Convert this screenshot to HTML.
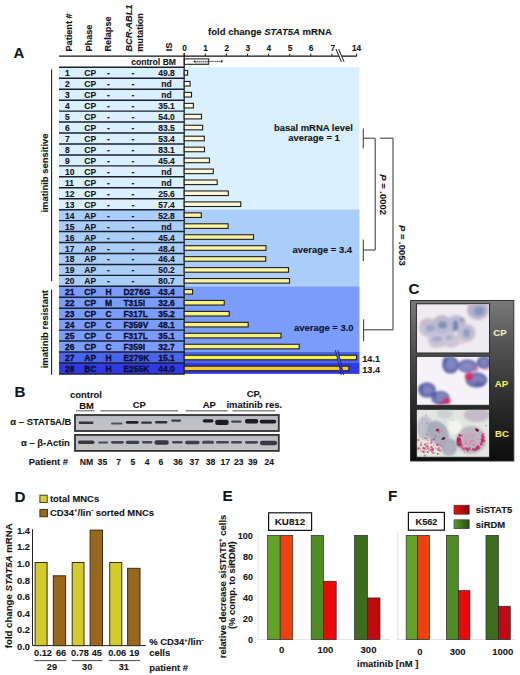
<!DOCTYPE html>
<html><head><meta charset="utf-8"><title>Figure</title>
<style>
html,body{margin:0;padding:0;background:#fff;}
body{width:520px;height:675px;overflow:hidden;}
svg{display:block;font-family:"Liberation Sans",sans-serif;}
</style></head><body>
<svg width="520" height="675" viewBox="0 0 520 675">
<rect x="0" y="0" width="520" height="675" fill="#fff"/>
<rect x="59.0" y="67.3" width="300.5" height="142.35" fill="#daf0ff" stroke="none" stroke-width="1.0" />
<rect x="59.0" y="209.65" width="300.5" height="76.65" fill="#aacdfa" stroke="none" stroke-width="1.0" />
<rect x="59.0" y="286.3" width="300.5" height="65.7" fill="#7a9dfc" stroke="none" stroke-width="1.0" />
<rect x="59.0" y="352.0" width="300.5" height="10.95" fill="#4a64ee" stroke="none" stroke-width="1.0" />
<rect x="59.0" y="362.95" width="300.5" height="10.95" fill="#3038e8" stroke="none" stroke-width="1.0" />
<text transform="translate(71.6,51.6) rotate(-90)" font-size="9.2" text-anchor="start" font-weight="bold" fill="#151515" stroke="#151515" stroke-width="0.1" >Patient #</text>
<text transform="translate(92.0,51.6) rotate(-90)" font-size="9.2" text-anchor="start" font-weight="bold" fill="#151515" stroke="#151515" stroke-width="0.1" >Phase</text>
<text transform="translate(110.6,51.6) rotate(-90)" font-size="9.2" text-anchor="start" font-weight="bold" fill="#151515" stroke="#151515" stroke-width="0.1" >Relapse</text>
<text transform="translate(131.6,51.6) rotate(-90)" font-size="9.2" font-weight="bold" font-style="italic" fill="#151515" stroke="#151515" stroke-width="0.1">BCR-ABL1</text>
<text transform="translate(143.2,51.8) rotate(-90)" font-size="9.2" text-anchor="start" font-weight="bold" fill="#151515" stroke="#151515" stroke-width="0.1" >mutation</text>
<text transform="translate(171.6,51.2) rotate(-90)" font-size="9.2" text-anchor="start" font-weight="bold" fill="#151515" stroke="#151515" stroke-width="0.1" >IS</text>
<text x="13.6" y="58.3" font-size="15.0" text-anchor="start" font-weight="bold" fill="#151515" stroke="#151515" stroke-width="0.1" >A</text>
<text x="208.0" y="35.0" font-size="9.55" font-weight="bold" fill="#151515" stroke="#151515" stroke-width="0.1">fold change <tspan font-style="italic">STAT5A</tspan> mRNA</text>
<line x1="59.0" y1="56" x2="356.8" y2="56" stroke="#111" stroke-width="1.25" />
<line x1="184.2" y1="53.6" x2="184.2" y2="56" stroke="#1a1a1a" stroke-width="1.0" />
<text x="184.5" y="51.3" font-size="8.3" text-anchor="middle" font-weight="bold" fill="#151515" stroke="#151515" stroke-width="0.1" >0</text>
<line x1="205.3" y1="53.6" x2="205.3" y2="56" stroke="#1a1a1a" stroke-width="1.0" />
<text x="205.6" y="51.3" font-size="8.3" text-anchor="middle" font-weight="bold" fill="#151515" stroke="#151515" stroke-width="0.1" >1</text>
<line x1="226.4" y1="53.6" x2="226.4" y2="56" stroke="#1a1a1a" stroke-width="1.0" />
<text x="226.7" y="51.3" font-size="8.3" text-anchor="middle" font-weight="bold" fill="#151515" stroke="#151515" stroke-width="0.1" >2</text>
<line x1="247.5" y1="53.6" x2="247.5" y2="56" stroke="#1a1a1a" stroke-width="1.0" />
<text x="247.8" y="51.3" font-size="8.3" text-anchor="middle" font-weight="bold" fill="#151515" stroke="#151515" stroke-width="0.1" >3</text>
<line x1="268.6" y1="53.6" x2="268.6" y2="56" stroke="#1a1a1a" stroke-width="1.0" />
<text x="268.9" y="51.3" font-size="8.3" text-anchor="middle" font-weight="bold" fill="#151515" stroke="#151515" stroke-width="0.1" >4</text>
<line x1="289.7" y1="53.6" x2="289.7" y2="56" stroke="#1a1a1a" stroke-width="1.0" />
<text x="290.0" y="51.3" font-size="8.3" text-anchor="middle" font-weight="bold" fill="#151515" stroke="#151515" stroke-width="0.1" >5</text>
<line x1="310.8" y1="53.6" x2="310.8" y2="56" stroke="#1a1a1a" stroke-width="1.0" />
<text x="311.1" y="51.3" font-size="8.3" text-anchor="middle" font-weight="bold" fill="#151515" stroke="#151515" stroke-width="0.1" >6</text>
<line x1="331.9" y1="53.6" x2="331.9" y2="56" stroke="#1a1a1a" stroke-width="1.0" />
<text x="332.9" y="51.3" font-size="8.3" text-anchor="middle" font-weight="bold" fill="#151515" stroke="#151515" stroke-width="0.1" >7</text>
<line x1="356.6" y1="53.6" x2="356.6" y2="56" stroke="#1a1a1a" stroke-width="1.0" />
<text x="356.6" y="51.3" font-size="8.3" text-anchor="middle" font-weight="bold" fill="#151515" stroke="#151515" stroke-width="0.1" >14</text>
<polygon points="336.4,49 338.6,49 344.0,61.8 341.8,61.8" fill="#fff"/>
<line x1="335.9" y1="49" x2="341.4" y2="61.8" stroke="#1a1a1a" stroke-width="1.0" />
<line x1="338.6" y1="49" x2="344.1" y2="61.8" stroke="#1a1a1a" stroke-width="1.0" />
<text x="176.0" y="64.6" font-size="8.6" text-anchor="end" font-weight="bold" fill="#151515" stroke="#151515" stroke-width="0.1" >control BM</text>
<rect x="184.2" y="58.9" width="24.5" height="5.4" fill="#ffffff" stroke="#1a1a1a" stroke-width="1.0" />
<line x1="194.5" y1="63.0" x2="208.5" y2="63.0" stroke="#777" stroke-width="0.7" />
<line x1="194.5" y1="61.4" x2="221.8" y2="61.4" stroke="#222" stroke-width="0.9" stroke-dasharray="1.4,0.6"/>
<circle cx="194.6" cy="61.4" r="0.9" fill="#222"/>
<circle cx="221.8" cy="61.4" r="1.1" fill="#222"/>
<line x1="59.0" y1="67.3" x2="184.2" y2="67.3" stroke="#18202c" stroke-width="1.45" />
<line x1="59.0" y1="78.25" x2="184.2" y2="78.25" stroke="#18202c" stroke-width="1.45" />
<line x1="59.0" y1="89.2" x2="184.2" y2="89.2" stroke="#18202c" stroke-width="1.45" />
<line x1="59.0" y1="100.15" x2="184.2" y2="100.15" stroke="#18202c" stroke-width="1.45" />
<line x1="59.0" y1="111.1" x2="184.2" y2="111.1" stroke="#18202c" stroke-width="1.45" />
<line x1="59.0" y1="122.05" x2="184.2" y2="122.05" stroke="#18202c" stroke-width="1.45" />
<line x1="59.0" y1="133.0" x2="184.2" y2="133.0" stroke="#18202c" stroke-width="1.45" />
<line x1="59.0" y1="143.95" x2="184.2" y2="143.95" stroke="#18202c" stroke-width="1.45" />
<line x1="59.0" y1="154.9" x2="184.2" y2="154.9" stroke="#18202c" stroke-width="1.45" />
<line x1="59.0" y1="165.85" x2="184.2" y2="165.85" stroke="#18202c" stroke-width="1.45" />
<line x1="59.0" y1="176.8" x2="184.2" y2="176.8" stroke="#18202c" stroke-width="1.45" />
<line x1="59.0" y1="187.75" x2="184.2" y2="187.75" stroke="#18202c" stroke-width="1.45" />
<line x1="59.0" y1="198.7" x2="184.2" y2="198.7" stroke="#18202c" stroke-width="1.45" />
<line x1="59.0" y1="209.65" x2="184.2" y2="209.65" stroke="#18202c" stroke-width="1.45" />
<line x1="59.0" y1="220.6" x2="184.2" y2="220.6" stroke="#18202c" stroke-width="1.45" />
<line x1="59.0" y1="231.55" x2="184.2" y2="231.55" stroke="#18202c" stroke-width="1.45" />
<line x1="59.0" y1="242.5" x2="184.2" y2="242.5" stroke="#18202c" stroke-width="1.45" />
<line x1="59.0" y1="253.45" x2="184.2" y2="253.45" stroke="#18202c" stroke-width="1.45" />
<line x1="59.0" y1="264.4" x2="184.2" y2="264.4" stroke="#18202c" stroke-width="1.45" />
<line x1="59.0" y1="275.35" x2="184.2" y2="275.35" stroke="#18202c" stroke-width="1.45" />
<line x1="59.0" y1="286.3" x2="184.2" y2="286.3" stroke="#18202c" stroke-width="1.45" />
<line x1="59.0" y1="297.25" x2="184.2" y2="297.25" stroke="#18202c" stroke-width="1.45" />
<line x1="59.0" y1="308.2" x2="184.2" y2="308.2" stroke="#18202c" stroke-width="1.45" />
<line x1="59.0" y1="319.15" x2="184.2" y2="319.15" stroke="#18202c" stroke-width="1.45" />
<line x1="59.0" y1="330.1" x2="184.2" y2="330.1" stroke="#18202c" stroke-width="1.45" />
<line x1="59.0" y1="341.05" x2="184.2" y2="341.05" stroke="#18202c" stroke-width="1.45" />
<line x1="59.0" y1="352.0" x2="184.2" y2="352.0" stroke="#18202c" stroke-width="1.45" />
<line x1="59.0" y1="362.95" x2="184.2" y2="362.95" stroke="#18202c" stroke-width="1.45" />
<line x1="59.0" y1="373.9" x2="184.2" y2="373.9" stroke="#18202c" stroke-width="1.45" />
<line x1="184.2" y1="53" x2="184.2" y2="374.4" stroke="#1a1a1a" stroke-width="1.2" />
<text x="65.0" y="76.3" font-size="8.5" text-anchor="start" font-weight="bold" fill="#151515" stroke="#151515" stroke-width="0.12" >1</text>
<text x="84.3" y="76.3" font-size="8.5" text-anchor="start" font-weight="bold" fill="#151515" stroke="#151515" stroke-width="0.12" >CP</text>
<text x="108.5" y="76.3" font-size="8.5" text-anchor="middle" font-weight="bold" fill="#151515" stroke="#151515" stroke-width="0.12" >-</text>
<text x="133.0" y="76.3" font-size="8.5" text-anchor="middle" font-weight="bold" fill="#151515" stroke="#151515" stroke-width="0.12" >-</text>
<text x="166.5" y="76.3" font-size="8.5" text-anchor="middle" font-weight="bold" fill="#151515" stroke="#151515" stroke-width="0.12" >49.8</text>
<rect x="184.2" y="70.5" width="3.4" height="4.6" fill="#fcf7d6" stroke="#1e1e1e" stroke-width="1.1" />
<text x="65.0" y="87.25" font-size="8.5" text-anchor="start" font-weight="bold" fill="#151515" stroke="#151515" stroke-width="0.12" >2</text>
<text x="84.3" y="87.25" font-size="8.5" text-anchor="start" font-weight="bold" fill="#151515" stroke="#151515" stroke-width="0.12" >CP</text>
<text x="108.5" y="87.25" font-size="8.5" text-anchor="middle" font-weight="bold" fill="#151515" stroke="#151515" stroke-width="0.12" >-</text>
<text x="133.0" y="87.25" font-size="8.5" text-anchor="middle" font-weight="bold" fill="#151515" stroke="#151515" stroke-width="0.12" >-</text>
<text x="166.5" y="87.25" font-size="8.5" text-anchor="middle" font-weight="bold" fill="#151515" stroke="#151515" stroke-width="0.12" >nd</text>
<rect x="184.2" y="81.45" width="5.9" height="4.6" fill="#fcf7d6" stroke="#1e1e1e" stroke-width="1.1" />
<text x="65.0" y="98.2" font-size="8.5" text-anchor="start" font-weight="bold" fill="#151515" stroke="#151515" stroke-width="0.12" >3</text>
<text x="84.3" y="98.2" font-size="8.5" text-anchor="start" font-weight="bold" fill="#151515" stroke="#151515" stroke-width="0.12" >CP</text>
<text x="108.5" y="98.2" font-size="8.5" text-anchor="middle" font-weight="bold" fill="#151515" stroke="#151515" stroke-width="0.12" >-</text>
<text x="133.0" y="98.2" font-size="8.5" text-anchor="middle" font-weight="bold" fill="#151515" stroke="#151515" stroke-width="0.12" >-</text>
<text x="166.5" y="98.2" font-size="8.5" text-anchor="middle" font-weight="bold" fill="#151515" stroke="#151515" stroke-width="0.12" >nd</text>
<rect x="184.2" y="92.4" width="7.3" height="4.6" fill="#fcf7d6" stroke="#1e1e1e" stroke-width="1.1" />
<text x="65.0" y="109.15" font-size="8.5" text-anchor="start" font-weight="bold" fill="#151515" stroke="#151515" stroke-width="0.12" >4</text>
<text x="84.3" y="109.15" font-size="8.5" text-anchor="start" font-weight="bold" fill="#151515" stroke="#151515" stroke-width="0.12" >CP</text>
<text x="108.5" y="109.15" font-size="8.5" text-anchor="middle" font-weight="bold" fill="#151515" stroke="#151515" stroke-width="0.12" >-</text>
<text x="133.0" y="109.15" font-size="8.5" text-anchor="middle" font-weight="bold" fill="#151515" stroke="#151515" stroke-width="0.12" >-</text>
<text x="166.5" y="109.15" font-size="8.5" text-anchor="middle" font-weight="bold" fill="#151515" stroke="#151515" stroke-width="0.12" >35.1</text>
<rect x="184.2" y="103.35" width="9.2" height="4.6" fill="#fcf7d6" stroke="#1e1e1e" stroke-width="1.1" />
<text x="65.0" y="120.1" font-size="8.5" text-anchor="start" font-weight="bold" fill="#151515" stroke="#151515" stroke-width="0.12" >5</text>
<text x="84.3" y="120.1" font-size="8.5" text-anchor="start" font-weight="bold" fill="#151515" stroke="#151515" stroke-width="0.12" >CP</text>
<text x="108.5" y="120.1" font-size="8.5" text-anchor="middle" font-weight="bold" fill="#151515" stroke="#151515" stroke-width="0.12" >-</text>
<text x="133.0" y="120.1" font-size="8.5" text-anchor="middle" font-weight="bold" fill="#151515" stroke="#151515" stroke-width="0.12" >-</text>
<text x="166.5" y="120.1" font-size="8.5" text-anchor="middle" font-weight="bold" fill="#151515" stroke="#151515" stroke-width="0.12" >54.0</text>
<rect x="184.2" y="114.3" width="17.3" height="4.6" fill="#fcf7d6" stroke="#1e1e1e" stroke-width="1.1" />
<text x="65.0" y="131.05" font-size="8.5" text-anchor="start" font-weight="bold" fill="#151515" stroke="#151515" stroke-width="0.12" >6</text>
<text x="84.3" y="131.05" font-size="8.5" text-anchor="start" font-weight="bold" fill="#151515" stroke="#151515" stroke-width="0.12" >CP</text>
<text x="108.5" y="131.05" font-size="8.5" text-anchor="middle" font-weight="bold" fill="#151515" stroke="#151515" stroke-width="0.12" >-</text>
<text x="133.0" y="131.05" font-size="8.5" text-anchor="middle" font-weight="bold" fill="#151515" stroke="#151515" stroke-width="0.12" >-</text>
<text x="166.5" y="131.05" font-size="8.5" text-anchor="middle" font-weight="bold" fill="#151515" stroke="#151515" stroke-width="0.12" >83.5</text>
<rect x="184.2" y="125.25" width="18.4" height="4.6" fill="#fcf7d6" stroke="#1e1e1e" stroke-width="1.1" />
<text x="65.0" y="142.0" font-size="8.5" text-anchor="start" font-weight="bold" fill="#151515" stroke="#151515" stroke-width="0.12" >7</text>
<text x="84.3" y="142.0" font-size="8.5" text-anchor="start" font-weight="bold" fill="#151515" stroke="#151515" stroke-width="0.12" >CP</text>
<text x="108.5" y="142.0" font-size="8.5" text-anchor="middle" font-weight="bold" fill="#151515" stroke="#151515" stroke-width="0.12" >-</text>
<text x="133.0" y="142.0" font-size="8.5" text-anchor="middle" font-weight="bold" fill="#151515" stroke="#151515" stroke-width="0.12" >-</text>
<text x="166.5" y="142.0" font-size="8.5" text-anchor="middle" font-weight="bold" fill="#151515" stroke="#151515" stroke-width="0.12" >53.4</text>
<rect x="184.2" y="136.2" width="20.1" height="4.6" fill="#fcf7d6" stroke="#1e1e1e" stroke-width="1.1" />
<text x="65.0" y="152.95" font-size="8.5" text-anchor="start" font-weight="bold" fill="#151515" stroke="#151515" stroke-width="0.12" >8</text>
<text x="84.3" y="152.95" font-size="8.5" text-anchor="start" font-weight="bold" fill="#151515" stroke="#151515" stroke-width="0.12" >CP</text>
<text x="108.5" y="152.95" font-size="8.5" text-anchor="middle" font-weight="bold" fill="#151515" stroke="#151515" stroke-width="0.12" >-</text>
<text x="133.0" y="152.95" font-size="8.5" text-anchor="middle" font-weight="bold" fill="#151515" stroke="#151515" stroke-width="0.12" >-</text>
<text x="166.5" y="152.95" font-size="8.5" text-anchor="middle" font-weight="bold" fill="#151515" stroke="#151515" stroke-width="0.12" >83.1</text>
<rect x="184.2" y="147.15" width="20.3" height="4.6" fill="#fcf7d6" stroke="#1e1e1e" stroke-width="1.1" />
<text x="65.0" y="163.9" font-size="8.5" text-anchor="start" font-weight="bold" fill="#151515" stroke="#151515" stroke-width="0.12" >9</text>
<text x="84.3" y="163.9" font-size="8.5" text-anchor="start" font-weight="bold" fill="#151515" stroke="#151515" stroke-width="0.12" >CP</text>
<text x="108.5" y="163.9" font-size="8.5" text-anchor="middle" font-weight="bold" fill="#151515" stroke="#151515" stroke-width="0.12" >-</text>
<text x="133.0" y="163.9" font-size="8.5" text-anchor="middle" font-weight="bold" fill="#151515" stroke="#151515" stroke-width="0.12" >-</text>
<text x="166.5" y="163.9" font-size="8.5" text-anchor="middle" font-weight="bold" fill="#151515" stroke="#151515" stroke-width="0.12" >45.4</text>
<rect x="184.2" y="158.1" width="25.3" height="4.6" fill="#fcf7d6" stroke="#1e1e1e" stroke-width="1.1" />
<text x="65.0" y="174.85" font-size="8.5" text-anchor="start" font-weight="bold" fill="#151515" stroke="#151515" stroke-width="0.12" >10</text>
<text x="84.3" y="174.85" font-size="8.5" text-anchor="start" font-weight="bold" fill="#151515" stroke="#151515" stroke-width="0.12" >CP</text>
<text x="108.5" y="174.85" font-size="8.5" text-anchor="middle" font-weight="bold" fill="#151515" stroke="#151515" stroke-width="0.12" >-</text>
<text x="133.0" y="174.85" font-size="8.5" text-anchor="middle" font-weight="bold" fill="#151515" stroke="#151515" stroke-width="0.12" >-</text>
<text x="166.5" y="174.85" font-size="8.5" text-anchor="middle" font-weight="bold" fill="#151515" stroke="#151515" stroke-width="0.12" >nd</text>
<rect x="184.2" y="169.05" width="29.1" height="4.6" fill="#fcf7d6" stroke="#1e1e1e" stroke-width="1.1" />
<text x="65.0" y="185.8" font-size="8.5" text-anchor="start" font-weight="bold" fill="#151515" stroke="#151515" stroke-width="0.12" >11</text>
<text x="84.3" y="185.8" font-size="8.5" text-anchor="start" font-weight="bold" fill="#151515" stroke="#151515" stroke-width="0.12" >CP</text>
<text x="108.5" y="185.8" font-size="8.5" text-anchor="middle" font-weight="bold" fill="#151515" stroke="#151515" stroke-width="0.12" >-</text>
<text x="133.0" y="185.8" font-size="8.5" text-anchor="middle" font-weight="bold" fill="#151515" stroke="#151515" stroke-width="0.12" >-</text>
<text x="166.5" y="185.8" font-size="8.5" text-anchor="middle" font-weight="bold" fill="#151515" stroke="#151515" stroke-width="0.12" >nd</text>
<rect x="184.2" y="180.0" width="33.0" height="4.6" fill="#fcf7d6" stroke="#1e1e1e" stroke-width="1.1" />
<text x="65.0" y="196.75" font-size="8.5" text-anchor="start" font-weight="bold" fill="#151515" stroke="#151515" stroke-width="0.12" >12</text>
<text x="84.3" y="196.75" font-size="8.5" text-anchor="start" font-weight="bold" fill="#151515" stroke="#151515" stroke-width="0.12" >CP</text>
<text x="108.5" y="196.75" font-size="8.5" text-anchor="middle" font-weight="bold" fill="#151515" stroke="#151515" stroke-width="0.12" >-</text>
<text x="133.0" y="196.75" font-size="8.5" text-anchor="middle" font-weight="bold" fill="#151515" stroke="#151515" stroke-width="0.12" >-</text>
<text x="166.5" y="196.75" font-size="8.5" text-anchor="middle" font-weight="bold" fill="#151515" stroke="#151515" stroke-width="0.12" >25.6</text>
<rect x="184.2" y="190.95" width="44.1" height="4.6" fill="#fcf7d6" stroke="#1e1e1e" stroke-width="1.1" />
<text x="65.0" y="207.7" font-size="8.5" text-anchor="start" font-weight="bold" fill="#151515" stroke="#151515" stroke-width="0.12" >13</text>
<text x="84.3" y="207.7" font-size="8.5" text-anchor="start" font-weight="bold" fill="#151515" stroke="#151515" stroke-width="0.12" >CP</text>
<text x="108.5" y="207.7" font-size="8.5" text-anchor="middle" font-weight="bold" fill="#151515" stroke="#151515" stroke-width="0.12" >-</text>
<text x="133.0" y="207.7" font-size="8.5" text-anchor="middle" font-weight="bold" fill="#151515" stroke="#151515" stroke-width="0.12" >-</text>
<text x="166.5" y="207.7" font-size="8.5" text-anchor="middle" font-weight="bold" fill="#151515" stroke="#151515" stroke-width="0.12" >57.4</text>
<rect x="184.2" y="201.9" width="56.6" height="4.6" fill="#fcf7d6" stroke="#1e1e1e" stroke-width="1.1" />
<text x="65.0" y="218.65" font-size="8.5" text-anchor="start" font-weight="bold" fill="#151515" stroke="#151515" stroke-width="0.12" >14</text>
<text x="84.3" y="218.65" font-size="8.5" text-anchor="start" font-weight="bold" fill="#151515" stroke="#151515" stroke-width="0.12" >AP</text>
<text x="108.5" y="218.65" font-size="8.5" text-anchor="middle" font-weight="bold" fill="#151515" stroke="#151515" stroke-width="0.12" >-</text>
<text x="133.0" y="218.65" font-size="8.5" text-anchor="middle" font-weight="bold" fill="#151515" stroke="#151515" stroke-width="0.12" >-</text>
<text x="166.5" y="218.65" font-size="8.5" text-anchor="middle" font-weight="bold" fill="#151515" stroke="#151515" stroke-width="0.12" >52.8</text>
<rect x="184.2" y="212.85" width="17.1" height="4.6" fill="#fbf2a6" stroke="#1e1e1e" stroke-width="1.1" />
<text x="65.0" y="229.6" font-size="8.5" text-anchor="start" font-weight="bold" fill="#151515" stroke="#151515" stroke-width="0.12" >15</text>
<text x="84.3" y="229.6" font-size="8.5" text-anchor="start" font-weight="bold" fill="#151515" stroke="#151515" stroke-width="0.12" >AP</text>
<text x="108.5" y="229.6" font-size="8.5" text-anchor="middle" font-weight="bold" fill="#151515" stroke="#151515" stroke-width="0.12" >-</text>
<text x="133.0" y="229.6" font-size="8.5" text-anchor="middle" font-weight="bold" fill="#151515" stroke="#151515" stroke-width="0.12" >-</text>
<text x="166.5" y="229.6" font-size="8.5" text-anchor="middle" font-weight="bold" fill="#151515" stroke="#151515" stroke-width="0.12" >nd</text>
<rect x="184.2" y="223.8" width="43.9" height="4.6" fill="#fbf2a6" stroke="#1e1e1e" stroke-width="1.1" />
<text x="65.0" y="240.55" font-size="8.5" text-anchor="start" font-weight="bold" fill="#151515" stroke="#151515" stroke-width="0.12" >16</text>
<text x="84.3" y="240.55" font-size="8.5" text-anchor="start" font-weight="bold" fill="#151515" stroke="#151515" stroke-width="0.12" >AP</text>
<text x="108.5" y="240.55" font-size="8.5" text-anchor="middle" font-weight="bold" fill="#151515" stroke="#151515" stroke-width="0.12" >-</text>
<text x="133.0" y="240.55" font-size="8.5" text-anchor="middle" font-weight="bold" fill="#151515" stroke="#151515" stroke-width="0.12" >-</text>
<text x="166.5" y="240.55" font-size="8.5" text-anchor="middle" font-weight="bold" fill="#151515" stroke="#151515" stroke-width="0.12" >45.4</text>
<rect x="184.2" y="234.75" width="69.3" height="4.6" fill="#fbf2a6" stroke="#1e1e1e" stroke-width="1.1" />
<text x="65.0" y="251.5" font-size="8.5" text-anchor="start" font-weight="bold" fill="#151515" stroke="#151515" stroke-width="0.12" >17</text>
<text x="84.3" y="251.5" font-size="8.5" text-anchor="start" font-weight="bold" fill="#151515" stroke="#151515" stroke-width="0.12" >AP</text>
<text x="108.5" y="251.5" font-size="8.5" text-anchor="middle" font-weight="bold" fill="#151515" stroke="#151515" stroke-width="0.12" >-</text>
<text x="133.0" y="251.5" font-size="8.5" text-anchor="middle" font-weight="bold" fill="#151515" stroke="#151515" stroke-width="0.12" >-</text>
<text x="166.5" y="251.5" font-size="8.5" text-anchor="middle" font-weight="bold" fill="#151515" stroke="#151515" stroke-width="0.12" >48.4</text>
<rect x="184.2" y="245.7" width="81.8" height="4.6" fill="#fbf2a6" stroke="#1e1e1e" stroke-width="1.1" />
<text x="65.0" y="262.45" font-size="8.5" text-anchor="start" font-weight="bold" fill="#151515" stroke="#151515" stroke-width="0.12" >18</text>
<text x="84.3" y="262.45" font-size="8.5" text-anchor="start" font-weight="bold" fill="#151515" stroke="#151515" stroke-width="0.12" >AP</text>
<text x="108.5" y="262.45" font-size="8.5" text-anchor="middle" font-weight="bold" fill="#151515" stroke="#151515" stroke-width="0.12" >-</text>
<text x="133.0" y="262.45" font-size="8.5" text-anchor="middle" font-weight="bold" fill="#151515" stroke="#151515" stroke-width="0.12" >-</text>
<text x="166.5" y="262.45" font-size="8.5" text-anchor="middle" font-weight="bold" fill="#151515" stroke="#151515" stroke-width="0.12" >46.4</text>
<rect x="184.2" y="256.65" width="81.5" height="4.6" fill="#fbf2a6" stroke="#1e1e1e" stroke-width="1.1" />
<text x="65.0" y="273.4" font-size="8.5" text-anchor="start" font-weight="bold" fill="#151515" stroke="#151515" stroke-width="0.12" >19</text>
<text x="84.3" y="273.4" font-size="8.5" text-anchor="start" font-weight="bold" fill="#151515" stroke="#151515" stroke-width="0.12" >AP</text>
<text x="108.5" y="273.4" font-size="8.5" text-anchor="middle" font-weight="bold" fill="#151515" stroke="#151515" stroke-width="0.12" >-</text>
<text x="133.0" y="273.4" font-size="8.5" text-anchor="middle" font-weight="bold" fill="#151515" stroke="#151515" stroke-width="0.12" >-</text>
<text x="166.5" y="273.4" font-size="8.5" text-anchor="middle" font-weight="bold" fill="#151515" stroke="#151515" stroke-width="0.12" >50.2</text>
<rect x="184.2" y="267.6" width="104.3" height="4.6" fill="#fbf2a6" stroke="#1e1e1e" stroke-width="1.1" />
<text x="65.0" y="284.35" font-size="8.5" text-anchor="start" font-weight="bold" fill="#151515" stroke="#151515" stroke-width="0.12" >20</text>
<text x="84.3" y="284.35" font-size="8.5" text-anchor="start" font-weight="bold" fill="#151515" stroke="#151515" stroke-width="0.12" >AP</text>
<text x="108.5" y="284.35" font-size="8.5" text-anchor="middle" font-weight="bold" fill="#151515" stroke="#151515" stroke-width="0.12" >-</text>
<text x="133.0" y="284.35" font-size="8.5" text-anchor="middle" font-weight="bold" fill="#151515" stroke="#151515" stroke-width="0.12" >-</text>
<text x="166.5" y="284.35" font-size="8.5" text-anchor="middle" font-weight="bold" fill="#151515" stroke="#151515" stroke-width="0.12" >80.7</text>
<rect x="184.2" y="278.55" width="105.3" height="4.6" fill="#fbf2a6" stroke="#1e1e1e" stroke-width="1.1" />
<text x="65.0" y="295.3" font-size="8.5" text-anchor="start" font-weight="bold" fill="#0a0e30" stroke="#0a0e30" stroke-width="0.3" >21</text>
<text x="84.3" y="295.3" font-size="8.5" text-anchor="start" font-weight="bold" fill="#0a0e30" stroke="#0a0e30" stroke-width="0.3" >CP</text>
<text x="108.5" y="295.3" font-size="8.5" text-anchor="middle" font-weight="bold" fill="#0a0e30" stroke="#0a0e30" stroke-width="0.3" >H</text>
<text x="123.4" y="295.3" font-size="8.5" text-anchor="start" font-weight="bold" fill="#0a0e30" stroke="#0a0e30" stroke-width="0.3" >D276G</text>
<text x="166.5" y="295.3" font-size="8.5" text-anchor="middle" font-weight="bold" fill="#0a0e30" stroke="#0a0e30" stroke-width="0.3" >43.4</text>
<rect x="184.2" y="289.5" width="8.4" height="4.6" fill="#f9f27c" stroke="#1e1e1e" stroke-width="1.1" />
<text x="65.0" y="306.25" font-size="8.5" text-anchor="start" font-weight="bold" fill="#0a0e30" stroke="#0a0e30" stroke-width="0.3" >22</text>
<text x="84.3" y="306.25" font-size="8.5" text-anchor="start" font-weight="bold" fill="#0a0e30" stroke="#0a0e30" stroke-width="0.3" >CP</text>
<text x="108.5" y="306.25" font-size="8.5" text-anchor="middle" font-weight="bold" fill="#0a0e30" stroke="#0a0e30" stroke-width="0.3" >M</text>
<text x="123.4" y="306.25" font-size="8.5" text-anchor="start" font-weight="bold" fill="#0a0e30" stroke="#0a0e30" stroke-width="0.3" >T315I</text>
<text x="166.5" y="306.25" font-size="8.5" text-anchor="middle" font-weight="bold" fill="#0a0e30" stroke="#0a0e30" stroke-width="0.3" >32.6</text>
<rect x="184.2" y="300.45" width="40.0" height="4.6" fill="#f9f27c" stroke="#1e1e1e" stroke-width="1.1" />
<text x="65.0" y="317.2" font-size="8.5" text-anchor="start" font-weight="bold" fill="#0a0e30" stroke="#0a0e30" stroke-width="0.3" >23</text>
<text x="84.3" y="317.2" font-size="8.5" text-anchor="start" font-weight="bold" fill="#0a0e30" stroke="#0a0e30" stroke-width="0.3" >CP</text>
<text x="108.5" y="317.2" font-size="8.5" text-anchor="middle" font-weight="bold" fill="#0a0e30" stroke="#0a0e30" stroke-width="0.3" >C</text>
<text x="123.4" y="317.2" font-size="8.5" text-anchor="start" font-weight="bold" fill="#0a0e30" stroke="#0a0e30" stroke-width="0.3" >F317L</text>
<text x="166.5" y="317.2" font-size="8.5" text-anchor="middle" font-weight="bold" fill="#0a0e30" stroke="#0a0e30" stroke-width="0.3" >35.2</text>
<rect x="184.2" y="311.4" width="45.0" height="4.6" fill="#f9f27c" stroke="#1e1e1e" stroke-width="1.1" />
<text x="65.0" y="328.15" font-size="8.5" text-anchor="start" font-weight="bold" fill="#0a0e30" stroke="#0a0e30" stroke-width="0.3" >24</text>
<text x="84.3" y="328.15" font-size="8.5" text-anchor="start" font-weight="bold" fill="#0a0e30" stroke="#0a0e30" stroke-width="0.3" >CP</text>
<text x="108.5" y="328.15" font-size="8.5" text-anchor="middle" font-weight="bold" fill="#0a0e30" stroke="#0a0e30" stroke-width="0.3" >C</text>
<text x="123.4" y="328.15" font-size="8.5" text-anchor="start" font-weight="bold" fill="#0a0e30" stroke="#0a0e30" stroke-width="0.3" >F359V</text>
<text x="166.5" y="328.15" font-size="8.5" text-anchor="middle" font-weight="bold" fill="#0a0e30" stroke="#0a0e30" stroke-width="0.3" >48.1</text>
<rect x="184.2" y="322.35" width="64.0" height="4.6" fill="#f9f27c" stroke="#1e1e1e" stroke-width="1.1" />
<text x="65.0" y="339.1" font-size="8.5" text-anchor="start" font-weight="bold" fill="#0a0e30" stroke="#0a0e30" stroke-width="0.3" >25</text>
<text x="84.3" y="339.1" font-size="8.5" text-anchor="start" font-weight="bold" fill="#0a0e30" stroke="#0a0e30" stroke-width="0.3" >CP</text>
<text x="108.5" y="339.1" font-size="8.5" text-anchor="middle" font-weight="bold" fill="#0a0e30" stroke="#0a0e30" stroke-width="0.3" >C</text>
<text x="123.4" y="339.1" font-size="8.5" text-anchor="start" font-weight="bold" fill="#0a0e30" stroke="#0a0e30" stroke-width="0.3" >F317L</text>
<text x="166.5" y="339.1" font-size="8.5" text-anchor="middle" font-weight="bold" fill="#0a0e30" stroke="#0a0e30" stroke-width="0.3" >35.1</text>
<rect x="184.2" y="333.3" width="96.8" height="4.6" fill="#f9f27c" stroke="#1e1e1e" stroke-width="1.1" />
<text x="65.0" y="350.05" font-size="8.5" text-anchor="start" font-weight="bold" fill="#0a0e30" stroke="#0a0e30" stroke-width="0.3" >26</text>
<text x="84.3" y="350.05" font-size="8.5" text-anchor="start" font-weight="bold" fill="#0a0e30" stroke="#0a0e30" stroke-width="0.3" >CP</text>
<text x="108.5" y="350.05" font-size="8.5" text-anchor="middle" font-weight="bold" fill="#0a0e30" stroke="#0a0e30" stroke-width="0.3" >C</text>
<text x="123.4" y="350.05" font-size="8.5" text-anchor="start" font-weight="bold" fill="#0a0e30" stroke="#0a0e30" stroke-width="0.3" >F359I</text>
<text x="166.5" y="350.05" font-size="8.5" text-anchor="middle" font-weight="bold" fill="#0a0e30" stroke="#0a0e30" stroke-width="0.3" >32.7</text>
<rect x="184.2" y="344.25" width="115.0" height="4.6" fill="#f9f27c" stroke="#1e1e1e" stroke-width="1.1" />
<text x="65.0" y="361.0" font-size="8.5" text-anchor="start" font-weight="bold" fill="#0a0e30" stroke="#0a0e30" stroke-width="0.3" >27</text>
<text x="84.3" y="361.0" font-size="8.5" text-anchor="start" font-weight="bold" fill="#0a0e30" stroke="#0a0e30" stroke-width="0.3" >AP</text>
<text x="108.5" y="361.0" font-size="8.5" text-anchor="middle" font-weight="bold" fill="#0a0e30" stroke="#0a0e30" stroke-width="0.3" >H</text>
<text x="123.4" y="361.0" font-size="8.5" text-anchor="start" font-weight="bold" fill="#0a0e30" stroke="#0a0e30" stroke-width="0.3" >E279K</text>
<text x="166.5" y="361.0" font-size="8.5" text-anchor="middle" font-weight="bold" fill="#0a0e30" stroke="#0a0e30" stroke-width="0.3" >15.1</text>
<rect x="184.2" y="355.2" width="172.3" height="4.6" fill="#f7ef4c" stroke="#1e1e1e" stroke-width="1.1" />
<text x="65.0" y="371.95" font-size="8.5" text-anchor="start" font-weight="bold" fill="#0a0e30" stroke="#0a0e30" stroke-width="0.3" >28</text>
<text x="84.3" y="371.95" font-size="8.5" text-anchor="start" font-weight="bold" fill="#0a0e30" stroke="#0a0e30" stroke-width="0.3" >BC</text>
<text x="108.5" y="371.95" font-size="8.5" text-anchor="middle" font-weight="bold" fill="#0a0e30" stroke="#0a0e30" stroke-width="0.3" >H</text>
<text x="123.4" y="371.95" font-size="8.5" text-anchor="start" font-weight="bold" fill="#0a0e30" stroke="#0a0e30" stroke-width="0.3" >E255K</text>
<text x="166.5" y="371.95" font-size="8.5" text-anchor="middle" font-weight="bold" fill="#0a0e30" stroke="#0a0e30" stroke-width="0.3" >44.0</text>
<rect x="184.2" y="366.15" width="164.7" height="4.6" fill="#f8c832" stroke="#1e1e1e" stroke-width="1.1" />
<polygon points="335.40,350.00 337.80,350.00 338.27,352.00 335.87,352.00" fill="#7a9dfc"/>
<polygon points="335.87,352.00 338.27,352.00 340.86,362.95 338.46,362.95" fill="#4a64ee"/>
<polygon points="338.46,362.95 340.86,362.95 343.44,373.90 341.04,373.90" fill="#3038e8"/>
<line x1="335.4" y1="350.0" x2="341.3" y2="375.0" stroke="#1a2470" stroke-width="0.9" />
<line x1="337.8" y1="350.0" x2="343.7" y2="375.0" stroke="#1a2470" stroke-width="0.9" />
<text x="362.3" y="361.6" font-size="9.1" text-anchor="start" font-weight="bold" fill="#151515" stroke="#151515" stroke-width="0.1" >14.1</text>
<text x="362.3" y="372.7" font-size="9.1" text-anchor="start" font-weight="bold" fill="#151515" stroke="#151515" stroke-width="0.1" >13.4</text>
<line x1="51.6" y1="69.5" x2="51.6" y2="281.3" stroke="#222" stroke-width="1.1" />
<line x1="51.6" y1="289.5" x2="51.6" y2="374.8" stroke="#222" stroke-width="1.1" />
<text transform="translate(47.6,212.6) rotate(-90)" font-size="9.45" text-anchor="start" font-weight="bold" fill="#151515" stroke="#151515" stroke-width="0.1" >imatinib sensitive</text>
<text transform="translate(47.6,368.3) rotate(-90)" font-size="9.45" text-anchor="start" font-weight="bold" fill="#151515" stroke="#151515" stroke-width="0.1" >imatinib resistant</text>
<text x="313.4" y="130.9" font-size="9.45" text-anchor="middle" font-weight="bold" fill="#151515" stroke="#151515" stroke-width="0.1" >basal mRNA level</text>
<text x="314.0" y="141.4" font-size="9.45" text-anchor="middle" font-weight="bold" fill="#151515" stroke="#151515" stroke-width="0.1" >average = 1</text>
<text x="322.3" y="253.0" font-size="9.45" text-anchor="middle" font-weight="bold" fill="#151515" stroke="#151515" stroke-width="0.1" >average = 3.4</text>
<text x="323.8" y="331.2" font-size="9.45" text-anchor="middle" font-weight="bold" fill="#0e1238" stroke="#0e1238" stroke-width="0.1" >average = 3.0</text>
<line x1="363.3" y1="128.4" x2="363.3" y2="148.5" stroke="#444" stroke-width="1.1" />
<line x1="363.3" y1="138.2" x2="375.2" y2="138.2" stroke="#444" stroke-width="1.1" />
<line x1="375.2" y1="138.2" x2="375.2" y2="250.0" stroke="#444" stroke-width="1.1" />
<line x1="363.3" y1="250.0" x2="375.2" y2="250.0" stroke="#444" stroke-width="1.1" />
<line x1="363.3" y1="239.6" x2="363.3" y2="261.0" stroke="#444" stroke-width="1.1" />
<line x1="379.8" y1="138.2" x2="393.0" y2="138.2" stroke="#444" stroke-width="1.1" />
<line x1="393.0" y1="138.2" x2="393.0" y2="329.8" stroke="#444" stroke-width="1.1" />
<line x1="363.6" y1="329.8" x2="393.0" y2="329.8" stroke="#444" stroke-width="1.1" />
<line x1="363.6" y1="319.2" x2="363.6" y2="341.2" stroke="#444" stroke-width="1.1" />
<text transform="translate(380.0,174.3) rotate(90)" font-size="9.45" font-weight="bold" fill="#151515" stroke="#151515" stroke-width="0.1"><tspan font-style="italic">P</tspan> = .0002</text>
<text transform="translate(398.5,225.0) rotate(90)" font-size="9.45" font-weight="bold" fill="#151515" stroke="#151515" stroke-width="0.1"><tspan font-style="italic">P</tspan> = .0053</text>
<text x="14.6" y="397.4" font-size="15.2" text-anchor="start" font-weight="bold" fill="#151515" stroke="#151515" stroke-width="0.1" >B</text>
<text x="86.0" y="398.0" font-size="9.45" text-anchor="middle" font-weight="bold" fill="#151515" stroke="#151515" stroke-width="0.1" >control</text>
<text x="86.5" y="408.6" font-size="9.45" text-anchor="middle" font-weight="bold" fill="#151515" stroke="#151515" stroke-width="0.1" >BM</text>
<text x="139.3" y="407.5" font-size="9.45" text-anchor="middle" font-weight="bold" fill="#151515" stroke="#151515" stroke-width="0.1" >CP</text>
<text x="209.3" y="407.7" font-size="9.45" text-anchor="middle" font-weight="bold" fill="#151515" stroke="#151515" stroke-width="0.1" >AP</text>
<text x="254.0" y="397.3" font-size="9.45" text-anchor="middle" font-weight="bold" fill="#151515" stroke="#151515" stroke-width="0.1" >CP,</text>
<text x="254.3" y="407.7" font-size="9.45" text-anchor="middle" font-weight="bold" fill="#151515" stroke="#151515" stroke-width="0.1" >imatinib res.</text>
<line x1="76.0" y1="410.8" x2="94.6" y2="410.8" stroke="#8a8a8a" stroke-width="1.4" />
<line x1="100.4" y1="410.8" x2="178.0" y2="410.8" stroke="#8a8a8a" stroke-width="1.4" />
<line x1="185.8" y1="410.8" x2="227.7" y2="410.8" stroke="#8a8a8a" stroke-width="1.4" />
<line x1="232.5" y1="410.8" x2="275.3" y2="410.8" stroke="#8a8a8a" stroke-width="1.4" />
<text x="71.4" y="425.0" font-size="9.45" text-anchor="end" font-weight="bold" fill="#151515" stroke="#151515" stroke-width="0.1" >α – STAT5A/B</text>
<text x="69.8" y="445.8" font-size="9.45" text-anchor="end" font-weight="bold" fill="#151515" stroke="#151515" stroke-width="0.1" >α – β-Actin</text>
<text x="68.0" y="464.5" font-size="9.45" text-anchor="end" font-weight="bold" fill="#151515" stroke="#151515" stroke-width="0.1" >Patient #</text>
<defs><linearGradient id="blotg" x1="0" y1="0" x2="0" y2="1"><stop offset="0" stop-color="#b2b4ba"/><stop offset="0.25" stop-color="#bdbfc4"/><stop offset="1" stop-color="#c2c4c8"/></linearGradient><filter id="bl1" x="-20%" y="-100%" width="140%" height="300%"><feGaussianBlur stdDeviation="0.75"/></filter><filter id="bl2" x="-50%" y="-50%" width="200%" height="200%"><feGaussianBlur stdDeviation="1.4"/></filter><filter id="bl3" x="-50%" y="-50%" width="200%" height="200%"><feGaussianBlur stdDeviation="0.8"/></filter><filter id="bl4" x="-50%" y="-50%" width="200%" height="200%"><feGaussianBlur stdDeviation="1.1"/></filter><filter id="bl5" x="-50%" y="-50%" width="200%" height="200%"><feGaussianBlur stdDeviation="0.45"/></filter><linearGradient id="cbox" x1="0" y1="0" x2="0" y2="1"><stop offset="0" stop-color="#7a7a7a"/><stop offset="0.25" stop-color="#575757"/><stop offset="0.5" stop-color="#3a3a3a"/><stop offset="0.75" stop-color="#222222"/><stop offset="1" stop-color="#0c0c0c"/></linearGradient><linearGradient id="gred" x1="0" y1="0" x2="1" y2="0"><stop offset="0" stop-color="#f01010"/><stop offset="1" stop-color="#7a0a0a"/></linearGradient><linearGradient id="ggreen" x1="0" y1="0" x2="1" y2="0"><stop offset="0" stop-color="#5a9a2a"/><stop offset="1" stop-color="#244a14"/></linearGradient></defs>
<rect x="75.0" y="415.0" width="203.8" height="16.0" fill="url(#blotg)" stroke="#333333" stroke-width="1.8" />
<rect x="75.0" y="434.9" width="203.8" height="16.0" fill="url(#blotg)" stroke="#333333" stroke-width="1.8" />
<text x="86.5" y="465.2" font-size="8.6" text-anchor="middle" font-weight="bold" fill="#151515" stroke="#151515" stroke-width="0.1" >NM</text>
<text x="102.4" y="465.2" font-size="8.6" text-anchor="middle" font-weight="bold" fill="#151515" stroke="#151515" stroke-width="0.1" >35</text>
<text x="118.7" y="465.2" font-size="8.6" text-anchor="middle" font-weight="bold" fill="#151515" stroke="#151515" stroke-width="0.1" >7</text>
<text x="132.8" y="465.2" font-size="8.6" text-anchor="middle" font-weight="bold" fill="#151515" stroke="#151515" stroke-width="0.1" >5</text>
<text x="147.2" y="465.2" font-size="8.6" text-anchor="middle" font-weight="bold" fill="#151515" stroke="#151515" stroke-width="0.1" >4</text>
<text x="161.0" y="465.2" font-size="8.6" text-anchor="middle" font-weight="bold" fill="#151515" stroke="#151515" stroke-width="0.1" >6</text>
<text x="178.0" y="465.2" font-size="8.6" text-anchor="middle" font-weight="bold" fill="#151515" stroke="#151515" stroke-width="0.1" >36</text>
<text x="194.4" y="465.2" font-size="8.6" text-anchor="middle" font-weight="bold" fill="#151515" stroke="#151515" stroke-width="0.1" >37</text>
<text x="210.5" y="465.2" font-size="8.6" text-anchor="middle" font-weight="bold" fill="#151515" stroke="#151515" stroke-width="0.1" >38</text>
<text x="225.3" y="465.2" font-size="8.6" text-anchor="middle" font-weight="bold" fill="#151515" stroke="#151515" stroke-width="0.1" >17</text>
<text x="238.8" y="465.2" font-size="8.6" text-anchor="middle" font-weight="bold" fill="#151515" stroke="#151515" stroke-width="0.1" >23</text>
<text x="252.7" y="465.2" font-size="8.6" text-anchor="middle" font-weight="bold" fill="#151515" stroke="#151515" stroke-width="0.1" >39</text>
<text x="269.3" y="465.2" font-size="8.6" text-anchor="middle" font-weight="bold" fill="#151515" stroke="#151515" stroke-width="0.1" >24</text>
<rect x="78.70" y="421.60" width="14.80" height="2.40" rx="1.20" fill="#1c1c22" opacity="0.85" filter="url(#bl1)"/>
<rect x="111.00" y="422.60" width="11.50" height="1.80" rx="0.90" fill="#1c1c22" opacity="0.65" filter="url(#bl1)"/>
<rect x="125.80" y="420.90" width="12.80" height="2.80" rx="1.40" fill="#1c1c22" opacity="0.95" filter="url(#bl1)"/>
<rect x="141.00" y="421.60" width="11.00" height="2.20" rx="1.10" fill="#1c1c22" opacity="0.85" filter="url(#bl1)"/>
<rect x="155.00" y="421.00" width="12.30" height="2.40" rx="1.20" fill="#1c1c22" opacity="0.87" filter="url(#bl1)"/>
<rect x="171.20" y="419.50" width="10.00" height="2.20" rx="1.10" fill="#1c1c22" opacity="0.80" filter="url(#bl1)"/>
<rect x="202.70" y="419.20" width="10.80" height="3.20" rx="1.60" fill="#1c1c22" opacity="1.00" filter="url(#bl1)"/>
<rect x="215.20" y="419.70" width="13.40" height="5.40" rx="2.00" fill="#1c1c22" opacity="1.00" filter="url(#bl1)"/>
<rect x="231.20" y="420.40" width="10.30" height="2.40" rx="1.20" fill="#1c1c22" opacity="0.75" filter="url(#bl1)"/>
<rect x="245.00" y="419.10" width="13.20" height="4.40" rx="2.00" fill="#1c1c22" opacity="1.00" filter="url(#bl1)"/>
<rect x="259.70" y="419.70" width="16.50" height="3.80" rx="1.90" fill="#1c1c22" opacity="1.00" filter="url(#bl1)"/>
<rect x="78.00" y="440.60" width="16.50" height="3.40" rx="1.70" fill="#26262c" opacity="0.87" filter="url(#bl1)"/>
<rect x="98.20" y="441.40" width="10.10" height="2.20" rx="1.10" fill="#26262c" opacity="0.74" filter="url(#bl1)"/>
<rect x="111.00" y="440.90" width="12.80" height="2.80" rx="1.40" fill="#26262c" opacity="0.78" filter="url(#bl1)"/>
<rect x="125.80" y="440.70" width="13.50" height="3.20" rx="1.60" fill="#26262c" opacity="0.83" filter="url(#bl1)"/>
<rect x="142.00" y="441.00" width="10.30" height="2.40" rx="1.20" fill="#26262c" opacity="0.78" filter="url(#bl1)"/>
<rect x="154.50" y="440.20" width="14.30" height="4.60" rx="2.00" fill="#26262c" opacity="0.87" filter="url(#bl1)"/>
<rect x="172.00" y="441.00" width="10.60" height="2.60" rx="1.30" fill="#26262c" opacity="0.78" filter="url(#bl1)"/>
<rect x="185.00" y="440.70" width="14.60" height="3.60" rx="1.80" fill="#26262c" opacity="0.83" filter="url(#bl1)"/>
<rect x="202.00" y="440.70" width="12.00" height="3.00" rx="1.50" fill="#26262c" opacity="0.78" filter="url(#bl1)"/>
<rect x="216.00" y="441.00" width="13.00" height="2.60" rx="1.30" fill="#26262c" opacity="0.78" filter="url(#bl1)"/>
<rect x="231.00" y="441.00" width="11.00" height="2.60" rx="1.30" fill="#26262c" opacity="0.78" filter="url(#bl1)"/>
<rect x="245.00" y="440.90" width="13.00" height="2.80" rx="1.40" fill="#26262c" opacity="0.78" filter="url(#bl1)"/>
<rect x="260.00" y="440.80" width="17.00" height="4.40" rx="2.00" fill="#26262c" opacity="0.87" filter="url(#bl1)"/>
<text x="408.4" y="294.3" font-size="15.2" text-anchor="start" font-weight="bold" fill="#151515" stroke="#151515" stroke-width="0.1" >C</text>
<rect x="410.5" y="300.5" width="103.3" height="160.5" fill="url(#cbox)" stroke="#333" stroke-width="1.0" />
<rect x="416.4" y="303.8" width="73.1" height="49.19999999999999" fill="#eeecf1" stroke="#2a2a2a" stroke-width="1.0" />
<rect x="416.4" y="356.3" width="73.1" height="49.0" fill="#f5f3f7" stroke="#2a2a2a" stroke-width="1.0" />
<rect x="416.4" y="409.3" width="73.1" height="48.0" fill="#e2e6e0" stroke="#2a2a2a" stroke-width="1.0" />
<clipPath id="c1"><rect x="416.9" y="304.3" width="72.1" height="48.2"/></clipPath>
<clipPath id="c2"><rect x="416.9" y="356.8" width="72.1" height="48"/></clipPath>
<clipPath id="c3"><rect x="416.9" y="409.8" width="72.1" height="47"/></clipPath>
<g clip-path="url(#c1)"><g filter="url(#bl4)">
<ellipse cx="478" cy="310" rx="11.5" ry="10.5" fill="#dcc9d0" opacity="0.9"/>
<ellipse cx="428.5" cy="327.5" rx="10" ry="10" fill="#dcc9d0" opacity="0.9"/>
<ellipse cx="442" cy="325" rx="10.5" ry="10.5" fill="#dcc9d0" opacity="0.9"/>
<ellipse cx="456" cy="325" rx="10.5" ry="10.5" fill="#dcc9d0" opacity="0.9"/>
<ellipse cx="466.5" cy="333" rx="9.5" ry="9.5" fill="#dcc9d0" opacity="0.9"/>
<ellipse cx="438" cy="340" rx="10.5" ry="8" fill="#dcc9d0" opacity="0.9"/>
<ellipse cx="451" cy="339.5" rx="9.5" ry="8.5" fill="#dcc9d0" opacity="0.9"/>
<ellipse cx="478" cy="310" rx="10" ry="9" fill="#b0b2cf" opacity="0.95"/>
<ellipse cx="428.5" cy="327.5" rx="8.6" ry="8.6" fill="#bfc0d6" opacity="0.95"/>
<ellipse cx="442" cy="325" rx="9.2" ry="9.2" fill="#b6b8d2" opacity="0.95"/>
<ellipse cx="456" cy="325" rx="9.2" ry="9.2" fill="#b8bad4" opacity="0.95"/>
<ellipse cx="466.5" cy="333" rx="8.2" ry="8.2" fill="#bec0d6" opacity="0.95"/>
<ellipse cx="438" cy="340" rx="9.2" ry="6.8" fill="#c4c4d8" opacity="0.95"/>
<ellipse cx="451" cy="339.5" rx="8.2" ry="7.2" fill="#c8c6d8" opacity="0.95"/>
<ellipse cx="479" cy="311" rx="5.5" ry="4.5" fill="#868cbc" opacity="0.8"/>
<ellipse cx="442.5" cy="325" rx="4.5" ry="3.5" fill="#7a82b4" opacity="0.8"/>
<ellipse cx="455.5" cy="326" rx="2.8" ry="6" fill="#737cae" opacity="0.85"/>
<ellipse cx="430" cy="328" rx="4" ry="3.5" fill="#9298c0" opacity="0.75"/>
<ellipse cx="466.5" cy="333" rx="3.5" ry="4.5" fill="#8a90bc" opacity="0.75"/>
<ellipse cx="437" cy="339" rx="5" ry="2.5" fill="#989ec4" opacity="0.75"/>
<ellipse cx="449" cy="337.5" rx="3" ry="2.5" fill="#9a9ec4" opacity="0.65"/>
<ellipse cx="462" cy="320" rx="3" ry="2.5" fill="#8c92bc" opacity="0.65"/>
<ellipse cx="424" cy="322" rx="3" ry="2" fill="#dcaab8" opacity="0.75"/>
<ellipse cx="471" cy="305" rx="3.5" ry="2" fill="#dcaabc" opacity="0.75"/>
<ellipse cx="456" cy="333" rx="2" ry="2" fill="#f0e8ee" opacity="0.9"/>
<ellipse cx="434" cy="346" rx="4" ry="1.5" fill="#d8b8c0" opacity="0.6"/>
<ellipse cx="462" cy="343" rx="3" ry="1.5" fill="#d8b8c0" opacity="0.6"/>
</g></g>
<g clip-path="url(#c2)"><g filter="url(#bl3)">
<ellipse cx="450.5" cy="365" rx="8.5" ry="8.8" fill="#6468ae" opacity="0.95"/>
<ellipse cx="467.5" cy="366" rx="10" ry="6.8" fill="#7074b4" opacity="0.95"/>
<ellipse cx="484" cy="362.5" rx="7.5" ry="6.5" fill="#6468ac" opacity="0.95"/>
<ellipse cx="476.5" cy="380" rx="11" ry="7.8" fill="#6a6eb0" opacity="0.95"/>
<ellipse cx="427" cy="390" rx="9" ry="7.8" fill="#6468ac" opacity="0.95"/>
<ellipse cx="440.5" cy="398" rx="9.5" ry="7.2" fill="#6e72b2" opacity="0.95"/>
<ellipse cx="451" cy="364" rx="5" ry="5.5" fill="#8a8ec6" opacity="0.75"/>
<ellipse cx="467" cy="366" rx="5.5" ry="3.5" fill="#9294ca" opacity="0.65"/>
<ellipse cx="427.5" cy="390" rx="5" ry="4" fill="#8c8ec6" opacity="0.65"/>
<ellipse cx="478" cy="380" rx="6" ry="4" fill="#8a8cc4" opacity="0.6"/>
<ellipse cx="441" cy="397" rx="5" ry="4" fill="#8e90c6" opacity="0.6"/>
<ellipse cx="484" cy="362" rx="4" ry="3.5" fill="#8c8ec6" opacity="0.6"/>
<ellipse cx="469" cy="376.5" rx="4.2" ry="4" fill="#cf2c6c" opacity="0.9"/>
<ellipse cx="446.5" cy="401" rx="4" ry="3.2" fill="#d02a68" opacity="0.9"/>
<ellipse cx="441" cy="403.5" rx="3" ry="1.5" fill="#c03070" opacity="0.7"/>
<ellipse cx="475" cy="369" rx="3.5" ry="2.5" fill="#b86aa0" opacity="0.7"/>
<ellipse cx="486" cy="368" rx="3" ry="2" fill="#c070a0" opacity="0.6"/>
<ellipse cx="479" cy="384" rx="5" ry="2.5" fill="#50569e" opacity="0.6"/>
<ellipse cx="434" cy="395" rx="3" ry="3" fill="#50549e" opacity="0.6"/>
<ellipse cx="445" cy="360" rx="2.5" ry="4" fill="#50569e" opacity="0.5"/>
<ellipse cx="421" cy="388" rx="2.5" ry="3.5" fill="#50569e" opacity="0.5"/>
</g></g>
<g clip-path="url(#c3)"><g filter="url(#bl4)">
<ellipse cx="420" cy="416" rx="8" ry="6" fill="#e8e2e6" opacity="0.9"/>
<ellipse cx="425" cy="428" rx="8" ry="12" fill="#b6bac6" opacity="0.85"/>
<ellipse cx="438" cy="433" rx="10" ry="13" fill="#a3a9ba" opacity="0.92" transform="rotate(-30 438 433)"/>
<ellipse cx="449" cy="447" rx="8.5" ry="9" fill="#a7adba" opacity="0.92"/>
<ellipse cx="471" cy="440" rx="15" ry="14" fill="#bdb2c2" opacity="0.92"/>
<ellipse cx="477" cy="415" rx="13" ry="7" fill="#c2b6c6" opacity="0.9"/>
<ellipse cx="445" cy="414" rx="8" ry="5" fill="#c8ccd2" opacity="0.8"/>
<ellipse cx="455" cy="427" rx="7" ry="7" fill="#f2f4f0" opacity="0.95"/>
<ellipse cx="470" cy="440" rx="8" ry="7" fill="#c8a8bc" opacity="0.6"/>
</g>
<g filter="url(#bl5)">
<circle cx="478.3" cy="446.2" r="1.06" fill="#c42a5c" opacity="0.43"/>
<circle cx="469.3" cy="449.1" r="0.64" fill="#c42a5c" opacity="0.58"/>
<circle cx="482.1" cy="435.5" r="0.65" fill="#c42a5c" opacity="0.43"/>
<circle cx="475.0" cy="450.0" r="0.69" fill="#c42a5c" opacity="0.48"/>
<circle cx="464.2" cy="449.3" r="1.00" fill="#c42a5c" opacity="0.54"/>
<circle cx="461.3" cy="435.4" r="1.20" fill="#c42a5c" opacity="0.50"/>
<circle cx="481.7" cy="439.9" r="0.82" fill="#c42a5c" opacity="0.69"/>
<circle cx="482.9" cy="441.7" r="1.05" fill="#c42a5c" opacity="0.53"/>
<circle cx="468.9" cy="448.2" r="0.64" fill="#c42a5c" opacity="0.47"/>
<circle cx="463.0" cy="446.7" r="0.82" fill="#c42a5c" opacity="0.60"/>
<circle cx="473.2" cy="448.9" r="1.16" fill="#c42a5c" opacity="0.64"/>
<circle cx="481.7" cy="444.3" r="0.97" fill="#c42a5c" opacity="0.71"/>
<circle cx="461.8" cy="444.8" r="1.29" fill="#c42a5c" opacity="0.44"/>
<circle cx="475.3" cy="449.7" r="0.71" fill="#c42a5c" opacity="0.57"/>
<circle cx="482.9" cy="435.3" r="1.14" fill="#c42a5c" opacity="0.60"/>
<circle cx="459.6" cy="439.2" r="1.09" fill="#c42a5c" opacity="0.61"/>
<circle cx="467.1" cy="448.9" r="1.19" fill="#c42a5c" opacity="0.73"/>
<circle cx="472.3" cy="450.0" r="0.64" fill="#c42a5c" opacity="0.65"/>
<circle cx="463.2" cy="448.9" r="1.18" fill="#c42a5c" opacity="0.50"/>
<circle cx="476.7" cy="448.9" r="0.62" fill="#c42a5c" opacity="0.56"/>
<circle cx="481.6" cy="440.9" r="0.64" fill="#c42a5c" opacity="0.67"/>
<circle cx="482.2" cy="439.4" r="0.87" fill="#c42a5c" opacity="0.70"/>
<circle cx="482.7" cy="437.3" r="0.98" fill="#c42a5c" opacity="0.71"/>
<circle cx="458.2" cy="441.9" r="0.79" fill="#c42a5c" opacity="0.55"/>
<circle cx="478.3" cy="448.8" r="1.27" fill="#c42a5c" opacity="0.45"/>
<circle cx="481.9" cy="441.2" r="0.76" fill="#c42a5c" opacity="0.57"/>
<circle cx="466.9" cy="448.3" r="0.60" fill="#c42a5c" opacity="0.55"/>
<circle cx="477.3" cy="448.3" r="1.27" fill="#c42a5c" opacity="0.64"/>
<circle cx="470.2" cy="450.0" r="1.07" fill="#c42a5c" opacity="0.42"/>
<circle cx="458.1" cy="438.0" r="1.21" fill="#c42a5c" opacity="0.68"/>
<circle cx="476.0" cy="448.3" r="0.67" fill="#c42a5c" opacity="0.62"/>
<circle cx="481.3" cy="436.7" r="0.75" fill="#c42a5c" opacity="0.46"/>
<circle cx="477.5" cy="446.4" r="0.60" fill="#c42a5c" opacity="0.45"/>
<circle cx="482.5" cy="438.2" r="0.62" fill="#c42a5c" opacity="0.71"/>
<circle cx="466.0" cy="447.6" r="0.78" fill="#c42a5c" opacity="0.52"/>
<circle cx="476.8" cy="447.1" r="1.19" fill="#c42a5c" opacity="0.75"/>
<circle cx="472.7" cy="449.5" r="0.66" fill="#c42a5c" opacity="0.44"/>
<circle cx="477.8" cy="446.9" r="1.18" fill="#c42a5c" opacity="0.46"/>
<circle cx="483.4" cy="434.3" r="0.97" fill="#c42a5c" opacity="0.45"/>
<circle cx="469.1" cy="448.1" r="0.97" fill="#c42a5c" opacity="0.74"/>
<circle cx="458.4" cy="439.7" r="0.78" fill="#c42a5c" opacity="0.53"/>
<circle cx="483.7" cy="441.2" r="0.97" fill="#c42a5c" opacity="0.67"/>
<circle cx="478.2" cy="446.5" r="1.17" fill="#c42a5c" opacity="0.74"/>
<circle cx="458.1" cy="440.3" r="1.17" fill="#c42a5c" opacity="0.66"/>
<circle cx="481.9" cy="443.5" r="0.85" fill="#c42a5c" opacity="0.41"/>
<circle cx="481.5" cy="435.2" r="0.78" fill="#c42a5c" opacity="0.64"/>
<circle cx="459.7" cy="435.7" r="1.26" fill="#c42a5c" opacity="0.75"/>
<circle cx="460.0" cy="435.8" r="0.75" fill="#c42a5c" opacity="0.48"/>
<circle cx="481.5" cy="442.0" r="1.04" fill="#c42a5c" opacity="0.72"/>
<circle cx="459.2" cy="440.7" r="1.06" fill="#c42a5c" opacity="0.68"/>
<circle cx="483.4" cy="437.4" r="1.24" fill="#c42a5c" opacity="0.67"/>
<circle cx="460.7" cy="444.4" r="0.72" fill="#c42a5c" opacity="0.68"/>
<circle cx="479.3" cy="447.8" r="1.28" fill="#c42a5c" opacity="0.54"/>
<circle cx="476.4" cy="449.9" r="1.11" fill="#c42a5c" opacity="0.46"/>
<circle cx="481.9" cy="439.3" r="1.23" fill="#c42a5c" opacity="0.68"/>
<circle cx="484.0" cy="440.2" r="1.29" fill="#c42a5c" opacity="0.63"/>
<circle cx="478.1" cy="447.8" r="0.69" fill="#c42a5c" opacity="0.40"/>
<circle cx="459.4" cy="434.9" r="0.97" fill="#c42a5c" opacity="0.73"/>
<circle cx="474.6" cy="450.3" r="1.18" fill="#c42a5c" opacity="0.47"/>
<circle cx="480.7" cy="444.2" r="0.77" fill="#c42a5c" opacity="0.61"/>
<circle cx="480.9" cy="444.7" r="0.69" fill="#c42a5c" opacity="0.72"/>
<circle cx="477.8" cy="447.6" r="1.01" fill="#c42a5c" opacity="0.72"/>
<circle cx="475.3" cy="450.2" r="0.95" fill="#c42a5c" opacity="0.59"/>
<circle cx="470.0" cy="448.2" r="0.91" fill="#c42a5c" opacity="0.46"/>
<circle cx="482.5" cy="433.7" r="0.72" fill="#c42a5c" opacity="0.57"/>
<circle cx="461.2" cy="445.4" r="0.83" fill="#c42a5c" opacity="0.58"/>
<circle cx="468.1" cy="450.2" r="0.67" fill="#c42a5c" opacity="0.60"/>
<circle cx="480.8" cy="444.0" r="1.14" fill="#c42a5c" opacity="0.58"/>
<circle cx="467.7" cy="450.0" r="1.24" fill="#c42a5c" opacity="0.56"/>
<circle cx="465.6" cy="448.5" r="0.96" fill="#c42a5c" opacity="0.64"/>
<circle cx="473.4" cy="449.5" r="0.93" fill="#c42a5c" opacity="0.73"/>
<circle cx="461.3" cy="447.0" r="1.26" fill="#c42a5c" opacity="0.49"/>
<circle cx="467.7" cy="450.6" r="1.19" fill="#c42a5c" opacity="0.45"/>
<circle cx="482.8" cy="439.0" r="0.65" fill="#c42a5c" opacity="0.48"/>
<circle cx="483.3" cy="436.8" r="1.15" fill="#c42a5c" opacity="0.71"/>
<circle cx="483.6" cy="440.6" r="1.06" fill="#c42a5c" opacity="0.45"/>
<circle cx="457.5" cy="438.8" r="0.75" fill="#c42a5c" opacity="0.73"/>
<circle cx="475.9" cy="448.7" r="1.29" fill="#c42a5c" opacity="0.69"/>
<circle cx="482.6" cy="440.8" r="0.96" fill="#c42a5c" opacity="0.52"/>
<circle cx="481.9" cy="442.1" r="1.11" fill="#c42a5c" opacity="0.41"/>
<circle cx="464.9" cy="438.2" r="0.51" fill="#d05a80" opacity="0.43"/>
<circle cx="465.9" cy="435.8" r="0.53" fill="#d05a80" opacity="0.60"/>
<circle cx="474.8" cy="427.0" r="0.55" fill="#d05a80" opacity="0.42"/>
<circle cx="481.1" cy="442.1" r="0.64" fill="#d05a80" opacity="0.38"/>
<circle cx="459.3" cy="445.2" r="0.91" fill="#d05a80" opacity="0.41"/>
<circle cx="479.0" cy="449.0" r="0.79" fill="#d05a80" opacity="0.53"/>
<circle cx="472.7" cy="440.9" r="0.84" fill="#d05a80" opacity="0.46"/>
<circle cx="483.7" cy="445.2" r="0.82" fill="#d05a80" opacity="0.55"/>
<circle cx="481.2" cy="444.9" r="0.53" fill="#d05a80" opacity="0.57"/>
<circle cx="465.8" cy="441.3" r="0.78" fill="#d05a80" opacity="0.58"/>
<circle cx="470.6" cy="442.6" r="0.76" fill="#d05a80" opacity="0.41"/>
<circle cx="473.8" cy="441.9" r="0.53" fill="#d05a80" opacity="0.40"/>
<circle cx="469.1" cy="443.9" r="0.88" fill="#d05a80" opacity="0.42"/>
<circle cx="467.2" cy="440.0" r="0.67" fill="#d05a80" opacity="0.35"/>
<circle cx="471.0" cy="440.9" r="0.87" fill="#d05a80" opacity="0.49"/>
<circle cx="473.5" cy="445.3" r="0.97" fill="#d05a80" opacity="0.38"/>
<circle cx="473.7" cy="435.2" r="0.75" fill="#d05a80" opacity="0.56"/>
<circle cx="465.4" cy="443.7" r="0.84" fill="#d05a80" opacity="0.60"/>
<circle cx="464.8" cy="447.9" r="0.85" fill="#d05a80" opacity="0.51"/>
<circle cx="466.4" cy="442.6" r="0.53" fill="#d05a80" opacity="0.38"/>
<circle cx="479.9" cy="443.5" r="0.63" fill="#d05a80" opacity="0.39"/>
<circle cx="480.9" cy="444.9" r="0.94" fill="#d05a80" opacity="0.52"/>
<circle cx="470.1" cy="443.6" r="0.65" fill="#d05a80" opacity="0.46"/>
<circle cx="474.6" cy="444.5" r="0.63" fill="#d05a80" opacity="0.59"/>
<circle cx="478.4" cy="438.9" r="0.62" fill="#d05a80" opacity="0.59"/>
<circle cx="425.8" cy="452.4" r="0.60" fill="#c42a5c" opacity="0.53"/>
<circle cx="420.4" cy="448.9" r="0.74" fill="#c42a5c" opacity="0.58"/>
<circle cx="433.1" cy="448.1" r="0.66" fill="#c42a5c" opacity="0.54"/>
<circle cx="429.3" cy="448.3" r="0.81" fill="#c42a5c" opacity="0.48"/>
<circle cx="421.1" cy="444.9" r="1.13" fill="#c42a5c" opacity="0.63"/>
<circle cx="425.2" cy="438.0" r="0.87" fill="#c42a5c" opacity="0.51"/>
<circle cx="431.7" cy="447.7" r="1.11" fill="#c42a5c" opacity="0.63"/>
<circle cx="439.9" cy="450.6" r="1.22" fill="#c42a5c" opacity="0.62"/>
<circle cx="426.8" cy="438.9" r="0.70" fill="#c42a5c" opacity="0.58"/>
<circle cx="415.7" cy="447.7" r="1.16" fill="#c42a5c" opacity="0.69"/>
<circle cx="416.1" cy="442.7" r="1.08" fill="#c42a5c" opacity="0.64"/>
<circle cx="428.2" cy="449.2" r="0.69" fill="#c42a5c" opacity="0.53"/>
<circle cx="437.8" cy="453.8" r="0.99" fill="#c42a5c" opacity="0.62"/>
<circle cx="421.1" cy="442.6" r="0.94" fill="#c42a5c" opacity="0.40"/>
<circle cx="431.2" cy="440.1" r="0.95" fill="#c42a5c" opacity="0.59"/>
<circle cx="426.7" cy="446.4" r="1.12" fill="#c42a5c" opacity="0.49"/>
<circle cx="432.6" cy="449.8" r="1.11" fill="#c42a5c" opacity="0.47"/>
<circle cx="426.9" cy="434.4" r="0.95" fill="#c42a5c" opacity="0.53"/>
<circle cx="418.2" cy="449.0" r="1.14" fill="#c42a5c" opacity="0.62"/>
<circle cx="426.4" cy="446.4" r="0.70" fill="#c42a5c" opacity="0.49"/>
<circle cx="427.8" cy="443.7" r="1.00" fill="#c42a5c" opacity="0.40"/>
<circle cx="432.8" cy="449.5" r="1.07" fill="#c42a5c" opacity="0.64"/>
<circle cx="425.6" cy="444.3" r="0.96" fill="#c42a5c" opacity="0.56"/>
<circle cx="424.8" cy="448.5" r="1.23" fill="#c42a5c" opacity="0.47"/>
<circle cx="443.1" cy="446.4" r="0.61" fill="#c42a5c" opacity="0.56"/>
<circle cx="435.3" cy="436.1" r="0.91" fill="#c42a5c" opacity="0.49"/>
<circle cx="431.9" cy="459.7" r="0.75" fill="#c42a5c" opacity="0.60"/>
<circle cx="433.0" cy="452.7" r="1.27" fill="#c42a5c" opacity="0.45"/>
<circle cx="431.3" cy="442.6" r="1.22" fill="#c42a5c" opacity="0.65"/>
<circle cx="429.6" cy="458.6" r="0.94" fill="#c42a5c" opacity="0.41"/>
<circle cx="435.6" cy="448.1" r="0.92" fill="#c42a5c" opacity="0.51"/>
<circle cx="431.8" cy="451.6" r="0.82" fill="#c42a5c" opacity="0.69"/>
<circle cx="438.8" cy="448.1" r="1.19" fill="#c42a5c" opacity="0.44"/>
<circle cx="437.2" cy="444.5" r="1.23" fill="#c42a5c" opacity="0.50"/>
<circle cx="423.5" cy="451.6" r="1.30" fill="#c42a5c" opacity="0.61"/>
<circle cx="423.6" cy="452.1" r="0.79" fill="#c42a5c" opacity="0.42"/>
<circle cx="437.9" cy="453.7" r="0.80" fill="#c42a5c" opacity="0.73"/>
<circle cx="428.0" cy="451.9" r="0.96" fill="#c42a5c" opacity="0.47"/>
<circle cx="416.6" cy="456.9" r="1.22" fill="#c42a5c" opacity="0.68"/>
<circle cx="418.2" cy="439.9" r="1.26" fill="#c42a5c" opacity="0.59"/>
<circle cx="427.6" cy="446.4" r="1.11" fill="#c42a5c" opacity="0.56"/>
<circle cx="428.2" cy="440.8" r="0.80" fill="#c42a5c" opacity="0.42"/>
<circle cx="431.0" cy="446.8" r="0.93" fill="#c42a5c" opacity="0.52"/>
<circle cx="424.8" cy="455.8" r="1.28" fill="#c42a5c" opacity="0.49"/>
<circle cx="424.9" cy="444.5" r="0.99" fill="#c42a5c" opacity="0.54"/>
<circle cx="429.9" cy="450.6" r="0.75" fill="#c42a5c" opacity="0.72"/>
<circle cx="423.4" cy="448.1" r="1.23" fill="#c42a5c" opacity="0.75"/>
<circle cx="424.6" cy="448.8" r="0.73" fill="#c42a5c" opacity="0.43"/>
<circle cx="426.4" cy="449.8" r="0.77" fill="#c42a5c" opacity="0.49"/>
<circle cx="415.7" cy="443.6" r="1.12" fill="#c42a5c" opacity="0.54"/>
<circle cx="421.2" cy="451.1" r="0.86" fill="#c42a5c" opacity="0.52"/>
<circle cx="432.8" cy="449.5" r="1.28" fill="#c42a5c" opacity="0.44"/>
<circle cx="418.8" cy="447.8" r="1.20" fill="#c42a5c" opacity="0.48"/>
<circle cx="427.4" cy="451.7" r="0.88" fill="#c42a5c" opacity="0.56"/>
<circle cx="440.1" cy="445.2" r="1.21" fill="#c42a5c" opacity="0.41"/>
<circle cx="438.0" cy="449.6" r="1.23" fill="#c42a5c" opacity="0.57"/>
<circle cx="427.9" cy="448.0" r="0.87" fill="#c42a5c" opacity="0.72"/>
<circle cx="433.8" cy="439.3" r="1.28" fill="#c42a5c" opacity="0.49"/>
<circle cx="430.9" cy="449.8" r="0.97" fill="#c42a5c" opacity="0.64"/>
<circle cx="437.7" cy="445.1" r="1.05" fill="#c42a5c" opacity="0.67"/>
<circle cx="450.0" cy="436.3" r="0.52" fill="#c44a70" opacity="0.53"/>
<circle cx="434.3" cy="452.5" r="0.82" fill="#c44a70" opacity="0.39"/>
<circle cx="427.0" cy="423.1" r="0.82" fill="#c44a70" opacity="0.51"/>
<circle cx="425.8" cy="415.1" r="0.76" fill="#c44a70" opacity="0.47"/>
<circle cx="445.2" cy="421.8" r="0.80" fill="#c44a70" opacity="0.30"/>
<circle cx="439.1" cy="432.3" r="0.98" fill="#c44a70" opacity="0.49"/>
<circle cx="479.9" cy="432.9" r="0.62" fill="#c44a70" opacity="0.37"/>
<circle cx="485.2" cy="443.0" r="0.65" fill="#c44a70" opacity="0.31"/>
<circle cx="452.9" cy="441.7" r="0.71" fill="#c44a70" opacity="0.38"/>
<circle cx="464.7" cy="452.7" r="0.61" fill="#c44a70" opacity="0.31"/>
<circle cx="441.7" cy="430.5" r="0.84" fill="#c44a70" opacity="0.36"/>
<circle cx="473.8" cy="444.5" r="0.75" fill="#c44a70" opacity="0.36"/>
<circle cx="485.9" cy="425.7" r="0.91" fill="#c44a70" opacity="0.37"/>
<circle cx="433.5" cy="445.5" r="0.65" fill="#c44a70" opacity="0.59"/>
<circle cx="452.7" cy="420.2" r="0.61" fill="#c44a70" opacity="0.43"/>
<ellipse cx="437.5" cy="430" rx="1.8" ry="1.6" fill="#a01844" opacity="0.9"/>
<ellipse cx="443.5" cy="438.5" rx="2.2" ry="1.2" fill="#601028" opacity="0.9" transform="rotate(-30 443.5 438.5)"/>
<ellipse cx="477" cy="430" rx="2.2" ry="1.3" fill="#601028" opacity="0.85" transform="rotate(30 477 430)"/>
<ellipse cx="459" cy="442" rx="2.5" ry="4.5" fill="#a81848" opacity="0.75"/>
</g></g>
<text x="500.0" y="336.0" font-size="9.6" text-anchor="middle" font-weight="bold" fill="#eeeec0" stroke="#eeeec0" stroke-width="0.1" >CP</text>
<text x="501.5" y="386.8" font-size="9.6" text-anchor="middle" font-weight="bold" fill="#f2ee58" stroke="#f2ee58" stroke-width="0.1" >AP</text>
<text x="502.0" y="437.2" font-size="9.6" text-anchor="middle" font-weight="bold" fill="#f2ee58" stroke="#f2ee58" stroke-width="0.1" >BC</text>
<text x="14.6" y="501.7" font-size="15.2" text-anchor="start" font-weight="bold" fill="#151515" stroke="#151515" stroke-width="0.1" >D</text>
<rect x="39.9" y="495.2" width="7.3" height="7.3" fill="#d6ce30" stroke="#3a3010" stroke-width="0.9" />
<text x="49.9" y="501.8" font-size="9.45" text-anchor="start" font-weight="bold" fill="#151515" stroke="#151515" stroke-width="0.1" >total MNCs</text>
<rect x="39.9" y="509.4" width="7.6" height="7.4" fill="#98661c" stroke="#3a3010" stroke-width="0.9" />
<text x="49.9" y="515.6" font-size="9.45" font-weight="bold" fill="#151515" stroke="#151515" stroke-width="0.1">CD34<tspan font-size="6" dy="-3.5">+</tspan><tspan dy="3.5">/lin</tspan><tspan font-size="6" dy="-3.5">-</tspan><tspan dy="3.5"> sorted MNCs</tspan></text>
<line x1="32.5" y1="529.2" x2="32.5" y2="645.6" stroke="#222" stroke-width="1.0" />
<line x1="32.5" y1="645.6" x2="145.8" y2="645.6" stroke="#222" stroke-width="1.0" />
<text x="30.0" y="650.0" font-size="9.4" text-anchor="end" font-weight="bold" fill="#151515" stroke="#151515" stroke-width="0.1" >0.0</text>
<text x="30.0" y="633.38" font-size="9.4" text-anchor="end" font-weight="bold" fill="#151515" stroke="#151515" stroke-width="0.1" >0.2</text>
<text x="30.0" y="616.76" font-size="9.4" text-anchor="end" font-weight="bold" fill="#151515" stroke="#151515" stroke-width="0.1" >0.4</text>
<text x="30.0" y="600.14" font-size="9.4" text-anchor="end" font-weight="bold" fill="#151515" stroke="#151515" stroke-width="0.1" >0.6</text>
<text x="30.0" y="583.52" font-size="9.4" text-anchor="end" font-weight="bold" fill="#151515" stroke="#151515" stroke-width="0.1" >0.8</text>
<text x="30.0" y="566.9" font-size="9.4" text-anchor="end" font-weight="bold" fill="#151515" stroke="#151515" stroke-width="0.1" >1.0</text>
<text x="30.0" y="550.28" font-size="9.4" text-anchor="end" font-weight="bold" fill="#151515" stroke="#151515" stroke-width="0.1" >1.2</text>
<text x="30.0" y="533.66" font-size="9.4" text-anchor="end" font-weight="bold" fill="#151515" stroke="#151515" stroke-width="0.1" >1.4</text>
<rect x="35.1" y="562.5" width="12.0" height="83.1" fill="#d3cb2c" stroke="#3a3010" stroke-width="1.0" />
<rect x="53.3" y="575.8" width="12.3" height="69.8" fill="#98661c" stroke="#3a3010" stroke-width="1.0" />
<rect x="72.2" y="562.5" width="11.8" height="83.1" fill="#d3cb2c" stroke="#3a3010" stroke-width="1.0" />
<rect x="90.1" y="530.09" width="12.4" height="115.51" fill="#98661c" stroke="#3a3010" stroke-width="1.0" />
<rect x="109.7" y="562.5" width="12.1" height="83.1" fill="#d3cb2c" stroke="#3a3010" stroke-width="1.0" />
<rect x="127.6" y="568.32" width="12.4" height="77.28" fill="#98661c" stroke="#3a3010" stroke-width="1.0" />
<text x="43.0" y="656.2" font-size="9.2" text-anchor="middle" font-weight="bold" fill="#151515" stroke="#151515" stroke-width="0.1" >0.12</text>
<text x="61.1" y="656.2" font-size="9.2" text-anchor="middle" font-weight="bold" fill="#151515" stroke="#151515" stroke-width="0.1" >66</text>
<text x="80.0" y="656.2" font-size="9.2" text-anchor="middle" font-weight="bold" fill="#151515" stroke="#151515" stroke-width="0.1" >0.78</text>
<text x="96.8" y="656.2" font-size="9.2" text-anchor="middle" font-weight="bold" fill="#151515" stroke="#151515" stroke-width="0.1" >45</text>
<text x="117.2" y="656.2" font-size="9.2" text-anchor="middle" font-weight="bold" fill="#151515" stroke="#151515" stroke-width="0.1" >0.06</text>
<text x="134.3" y="656.2" font-size="9.2" text-anchor="middle" font-weight="bold" fill="#151515" stroke="#151515" stroke-width="0.1" >19</text>
<line x1="34.4" y1="660.6" x2="66.2" y2="660.6" stroke="#333" stroke-width="0.9" />
<line x1="71.6" y1="660.6" x2="102.5" y2="660.6" stroke="#333" stroke-width="0.9" />
<line x1="108.8" y1="660.6" x2="140.0" y2="660.6" stroke="#333" stroke-width="0.9" />
<text x="51.9" y="670.3" font-size="9.2" text-anchor="middle" font-weight="bold" fill="#151515" stroke="#151515" stroke-width="0.1" >29</text>
<text x="87.2" y="670.3" font-size="9.2" text-anchor="middle" font-weight="bold" fill="#151515" stroke="#151515" stroke-width="0.1" >30</text>
<text x="123.8" y="670.3" font-size="9.2" text-anchor="middle" font-weight="bold" fill="#151515" stroke="#151515" stroke-width="0.1" >31</text>
<text x="149.2" y="645.1" font-size="9.45" font-weight="bold" fill="#151515" stroke="#151515" stroke-width="0.1">% CD34<tspan font-size="6" dy="-3.5">+</tspan><tspan dy="3.5">/lin</tspan><tspan font-size="6" dy="-3.5">-</tspan></text>
<text x="149.2" y="656.4" font-size="9.45" text-anchor="start" font-weight="bold" fill="#151515" stroke="#151515" stroke-width="0.1" >cells</text>
<text x="149.2" y="670.6" font-size="9.45" text-anchor="start" font-weight="bold" fill="#151515" stroke="#151515" stroke-width="0.1" >patient #</text>
<text transform="translate(12.4,648.2) rotate(-90)" font-size="9.65" font-weight="bold" fill="#151515" stroke="#151515" stroke-width="0.1">fold change <tspan font-style="italic">STAT5A</tspan> mRNA</text>
<text x="222.4" y="501.4" font-size="15.2" text-anchor="start" font-weight="bold" fill="#151515" stroke="#151515" stroke-width="0.1" >E</text>
<rect x="268.6" y="512.8" width="43.0" height="17.6" fill="#fff" stroke="#111" stroke-width="1.2" />
<text x="290.0" y="525.2" font-size="9.8" text-anchor="middle" font-weight="bold" fill="#151515" stroke="#151515" stroke-width="0.1" >KU812</text>
<line x1="258.0" y1="530" x2="258.0" y2="639.6" stroke="#dcdcdc" stroke-width="0.8" />
<line x1="258.0" y1="639.6" x2="390.0" y2="639.6" stroke="#dcdcdc" stroke-width="0.8" />
<text x="252.9" y="642.9" font-size="9.0" text-anchor="end" font-weight="bold" fill="#151515" stroke="#151515" stroke-width="0.1" >0</text>
<text x="252.9" y="622.06" font-size="9.0" text-anchor="end" font-weight="bold" fill="#151515" stroke="#151515" stroke-width="0.1" >20</text>
<text x="252.9" y="601.22" font-size="9.0" text-anchor="end" font-weight="bold" fill="#151515" stroke="#151515" stroke-width="0.1" >40</text>
<text x="252.9" y="580.38" font-size="9.0" text-anchor="end" font-weight="bold" fill="#151515" stroke="#151515" stroke-width="0.1" >60</text>
<text x="252.9" y="559.54" font-size="9.0" text-anchor="end" font-weight="bold" fill="#151515" stroke="#151515" stroke-width="0.1" >80</text>
<text x="252.9" y="538.7" font-size="9.0" text-anchor="end" font-weight="bold" fill="#151515" stroke="#151515" stroke-width="0.1" >100</text>
<rect x="267.6" y="535.4" width="12.6" height="104.2" fill="#62a226" stroke="#2a2a2a" stroke-width="0.7" />
<rect x="280.2" y="535.4" width="12.5" height="104.2" fill="#ec4212" stroke="#2a2a2a" stroke-width="0.7" />
<rect x="311.2" y="535.4" width="12.2" height="104.2" fill="#4f8c24" stroke="#2a2a2a" stroke-width="0.7" />
<rect x="323.4" y="581.25" width="12.8" height="58.35" fill="#ea0a0a" stroke="#2a2a2a" stroke-width="0.7" />
<rect x="354.5" y="535.4" width="12.9" height="104.2" fill="#3d6c1e" stroke="#2a2a2a" stroke-width="0.7" />
<rect x="367.4" y="597.92" width="12.6" height="41.68" fill="#be0a10" stroke="#2a2a2a" stroke-width="0.7" />
<text x="281.6" y="652.8" font-size="9.5" text-anchor="middle" font-weight="bold" fill="#151515" stroke="#151515" stroke-width="0.1" >0</text>
<text x="325.4" y="652.8" font-size="9.5" text-anchor="middle" font-weight="bold" fill="#151515" stroke="#151515" stroke-width="0.1" >100</text>
<text x="368.5" y="652.8" font-size="9.5" text-anchor="middle" font-weight="bold" fill="#151515" stroke="#151515" stroke-width="0.1" >300</text>
<text x="387.7" y="666.5" font-size="9.45" text-anchor="middle" font-weight="bold" fill="#151515" stroke="#151515" stroke-width="0.1" >imatinib [nM ]</text>
<text transform="translate(225.8,658.3) rotate(-90)" font-size="9.5" font-weight="bold" fill="#151515" stroke="#151515" stroke-width="0.1">relative decrease siSTAT5<tspan font-size="6" dy="-3.5">+</tspan><tspan dy="3.5"> cells</tspan></text>
<text transform="translate(235.0,629.0) rotate(-90)" font-size="9.35" text-anchor="start" font-weight="bold" fill="#151515" stroke="#151515" stroke-width="0.1" >(% comp. to siRDM)</text>
<text x="388.0" y="501.2" font-size="15.2" text-anchor="start" font-weight="bold" fill="#151515" stroke="#151515" stroke-width="0.1" >F</text>
<rect x="408.4" y="512.4" width="36.0" height="17.8" fill="#fff" stroke="#111" stroke-width="1.2" />
<text x="426.5" y="525.0" font-size="9.2" text-anchor="middle" font-weight="bold" fill="#151515" stroke="#151515" stroke-width="0.1" >K562</text>
<line x1="397.8" y1="531" x2="397.8" y2="639.6" stroke="#d8d8d8" stroke-width="0.8" />
<line x1="397.8" y1="639.6" x2="515.0" y2="639.6" stroke="#d8d8d8" stroke-width="0.8" />
<rect x="406.2" y="535.4" width="11.4" height="104.2" fill="#62a226" stroke="#2a2a2a" stroke-width="0.7" />
<rect x="417.6" y="535.4" width="11.8" height="104.2" fill="#ec4212" stroke="#2a2a2a" stroke-width="0.7" />
<rect x="446.4" y="535.4" width="11.9" height="104.2" fill="#4f8c24" stroke="#2a2a2a" stroke-width="0.7" />
<rect x="458.3" y="590.63" width="11.6" height="48.97" fill="#ea0a0a" stroke="#2a2a2a" stroke-width="0.7" />
<rect x="486.0" y="535.4" width="12.4" height="104.2" fill="#3d6c1e" stroke="#2a2a2a" stroke-width="0.7" />
<rect x="498.4" y="606.26" width="11.9" height="33.34" fill="#be0a10" stroke="#2a2a2a" stroke-width="0.7" />
<text x="419.9" y="654.6" font-size="9.5" text-anchor="middle" font-weight="bold" fill="#151515" stroke="#151515" stroke-width="0.1" >0</text>
<text x="457.7" y="654.6" font-size="9.5" text-anchor="middle" font-weight="bold" fill="#151515" stroke="#151515" stroke-width="0.1" >300</text>
<text x="502.7" y="654.6" font-size="9.5" text-anchor="middle" font-weight="bold" fill="#151515" stroke="#151515" stroke-width="0.1" >1000</text>
<rect x="454.0" y="505.2" width="15.2" height="9.0" fill="url(#gred)" stroke="#333" stroke-width="0.6" />
<rect x="454.0" y="519.8" width="15.2" height="8.9" fill="url(#ggreen)" stroke="#333" stroke-width="0.6" />
<text x="475.8" y="512.5" font-size="9.45" text-anchor="start" font-weight="bold" fill="#151515" stroke="#151515" stroke-width="0.1" >siSTAT5</text>
<text x="475.8" y="528.0" font-size="9.45" text-anchor="start" font-weight="bold" fill="#151515" stroke="#151515" stroke-width="0.1" >siRDM</text>
</svg>
</body></html>
